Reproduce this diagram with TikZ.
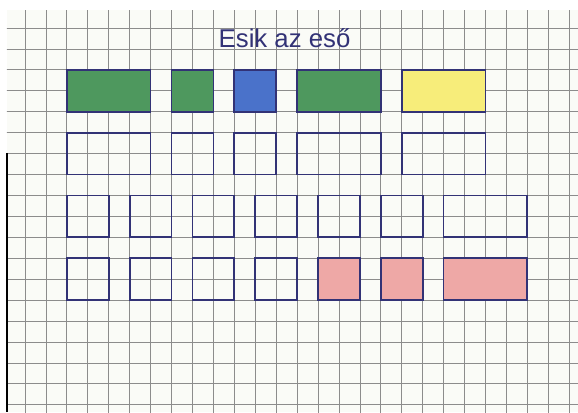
\documentclass[tikz,border=0pt]{standalone}
\usepackage{fontspec}
\setmainfont{Liberation Sans}
\usetikzlibrary{positioning}
\definecolor{ink}{RGB}{50,50,118}
\definecolor{gridgrey}{RGB}{140,140,140}
\definecolor{paper}{RGB}{250,251,247}
\definecolor{pencilgreen}{RGB}{78,152,94}
\definecolor{pencilblue}{RGB}{74,114,202}
\definecolor{pencilyellow}{RGB}{247,237,122}
\definecolor{pencilpink}{RGB}{238,168,166}

\begin{document}
\begin{tikzpicture}[x=0.6cm, y=0.6cm,
  gridline/.style={draw=gridgrey, line width=0.6pt},
  box/.style={draw=ink, line width=1.4pt, minimum width=#1, minimum height=1.2cm, inner sep=0pt, outer sep=0pt},
  box/.default=1.2cm
]
% sheet of squared paper
\useasboundingbox (-1.194,1.338) rectangle (26.42,-18.35);
\fill[white] (-1.194,1.338) rectangle (26.42,-18.35);
\fill[paper] (-0.86,0.86) rectangle (26.42,-18.35);
\begin{scope}
  \clip (-0.86,0.86) rectangle (26.42,-18.35);
  \draw[gridline, step=0.6cm] (-1,1) grid (27,-19);
\end{scope}
\draw[black, line width=1pt] (-0.86,-5.97) -- (-0.86,-18.35);

\node[text=ink, font=\fontsize{21}{25}\selectfont, anchor=base] (title) at (12.4,-0.92) {Esik az eső};

% coloured row
\node[box=2.4cm, fill=pencilgreen] (g1) at (4,-3) {};
\node[box, fill=pencilgreen] (g2) at (8,-3) {};
\node[box, fill=pencilblue] (b1) at (11,-3) {};
\node[box=2.4cm, fill=pencilgreen] (g3) at (15,-3) {};
\node[box=2.4cm, fill=pencilyellow] (y1) at (20,-3) {};

% empty row below it
\node[box=2.4cm, below=0.6cm of g1] (e1) {};
\node[box, below=0.6cm of g2] (e2) {};
\node[box, below=0.6cm of b1] (e3) {};
\node[box=2.4cm, below=0.6cm of g3] (e4) {};
\node[box=2.4cm, below=0.6cm of y1] (e5) {};

% third row
\node[box] (f1) at (3,-9) {};
\node[box] (f2) at (6,-9) {};
\node[box] (f3) at (9,-9) {};
\node[box] (f4) at (12,-9) {};
\node[box] (f5) at (15,-9) {};
\node[box] (f6) at (18,-9) {};
\node[box=2.4cm] (f7) at (22,-9) {};

% last row, red at the end
\node[box, below=0.6cm of f1] (h1) {};
\node[box, below=0.6cm of f2] (h2) {};
\node[box, below=0.6cm of f3] (h3) {};
\node[box, below=0.6cm of f4] (h4) {};
\node[box, fill=pencilpink, below=0.6cm of f5] (p1) {};
\node[box, fill=pencilpink, below=0.6cm of f6] (p2) {};
\node[box=2.4cm, fill=pencilpink, below=0.6cm of f7] (p3) {};
\end{tikzpicture}
\end{document}
